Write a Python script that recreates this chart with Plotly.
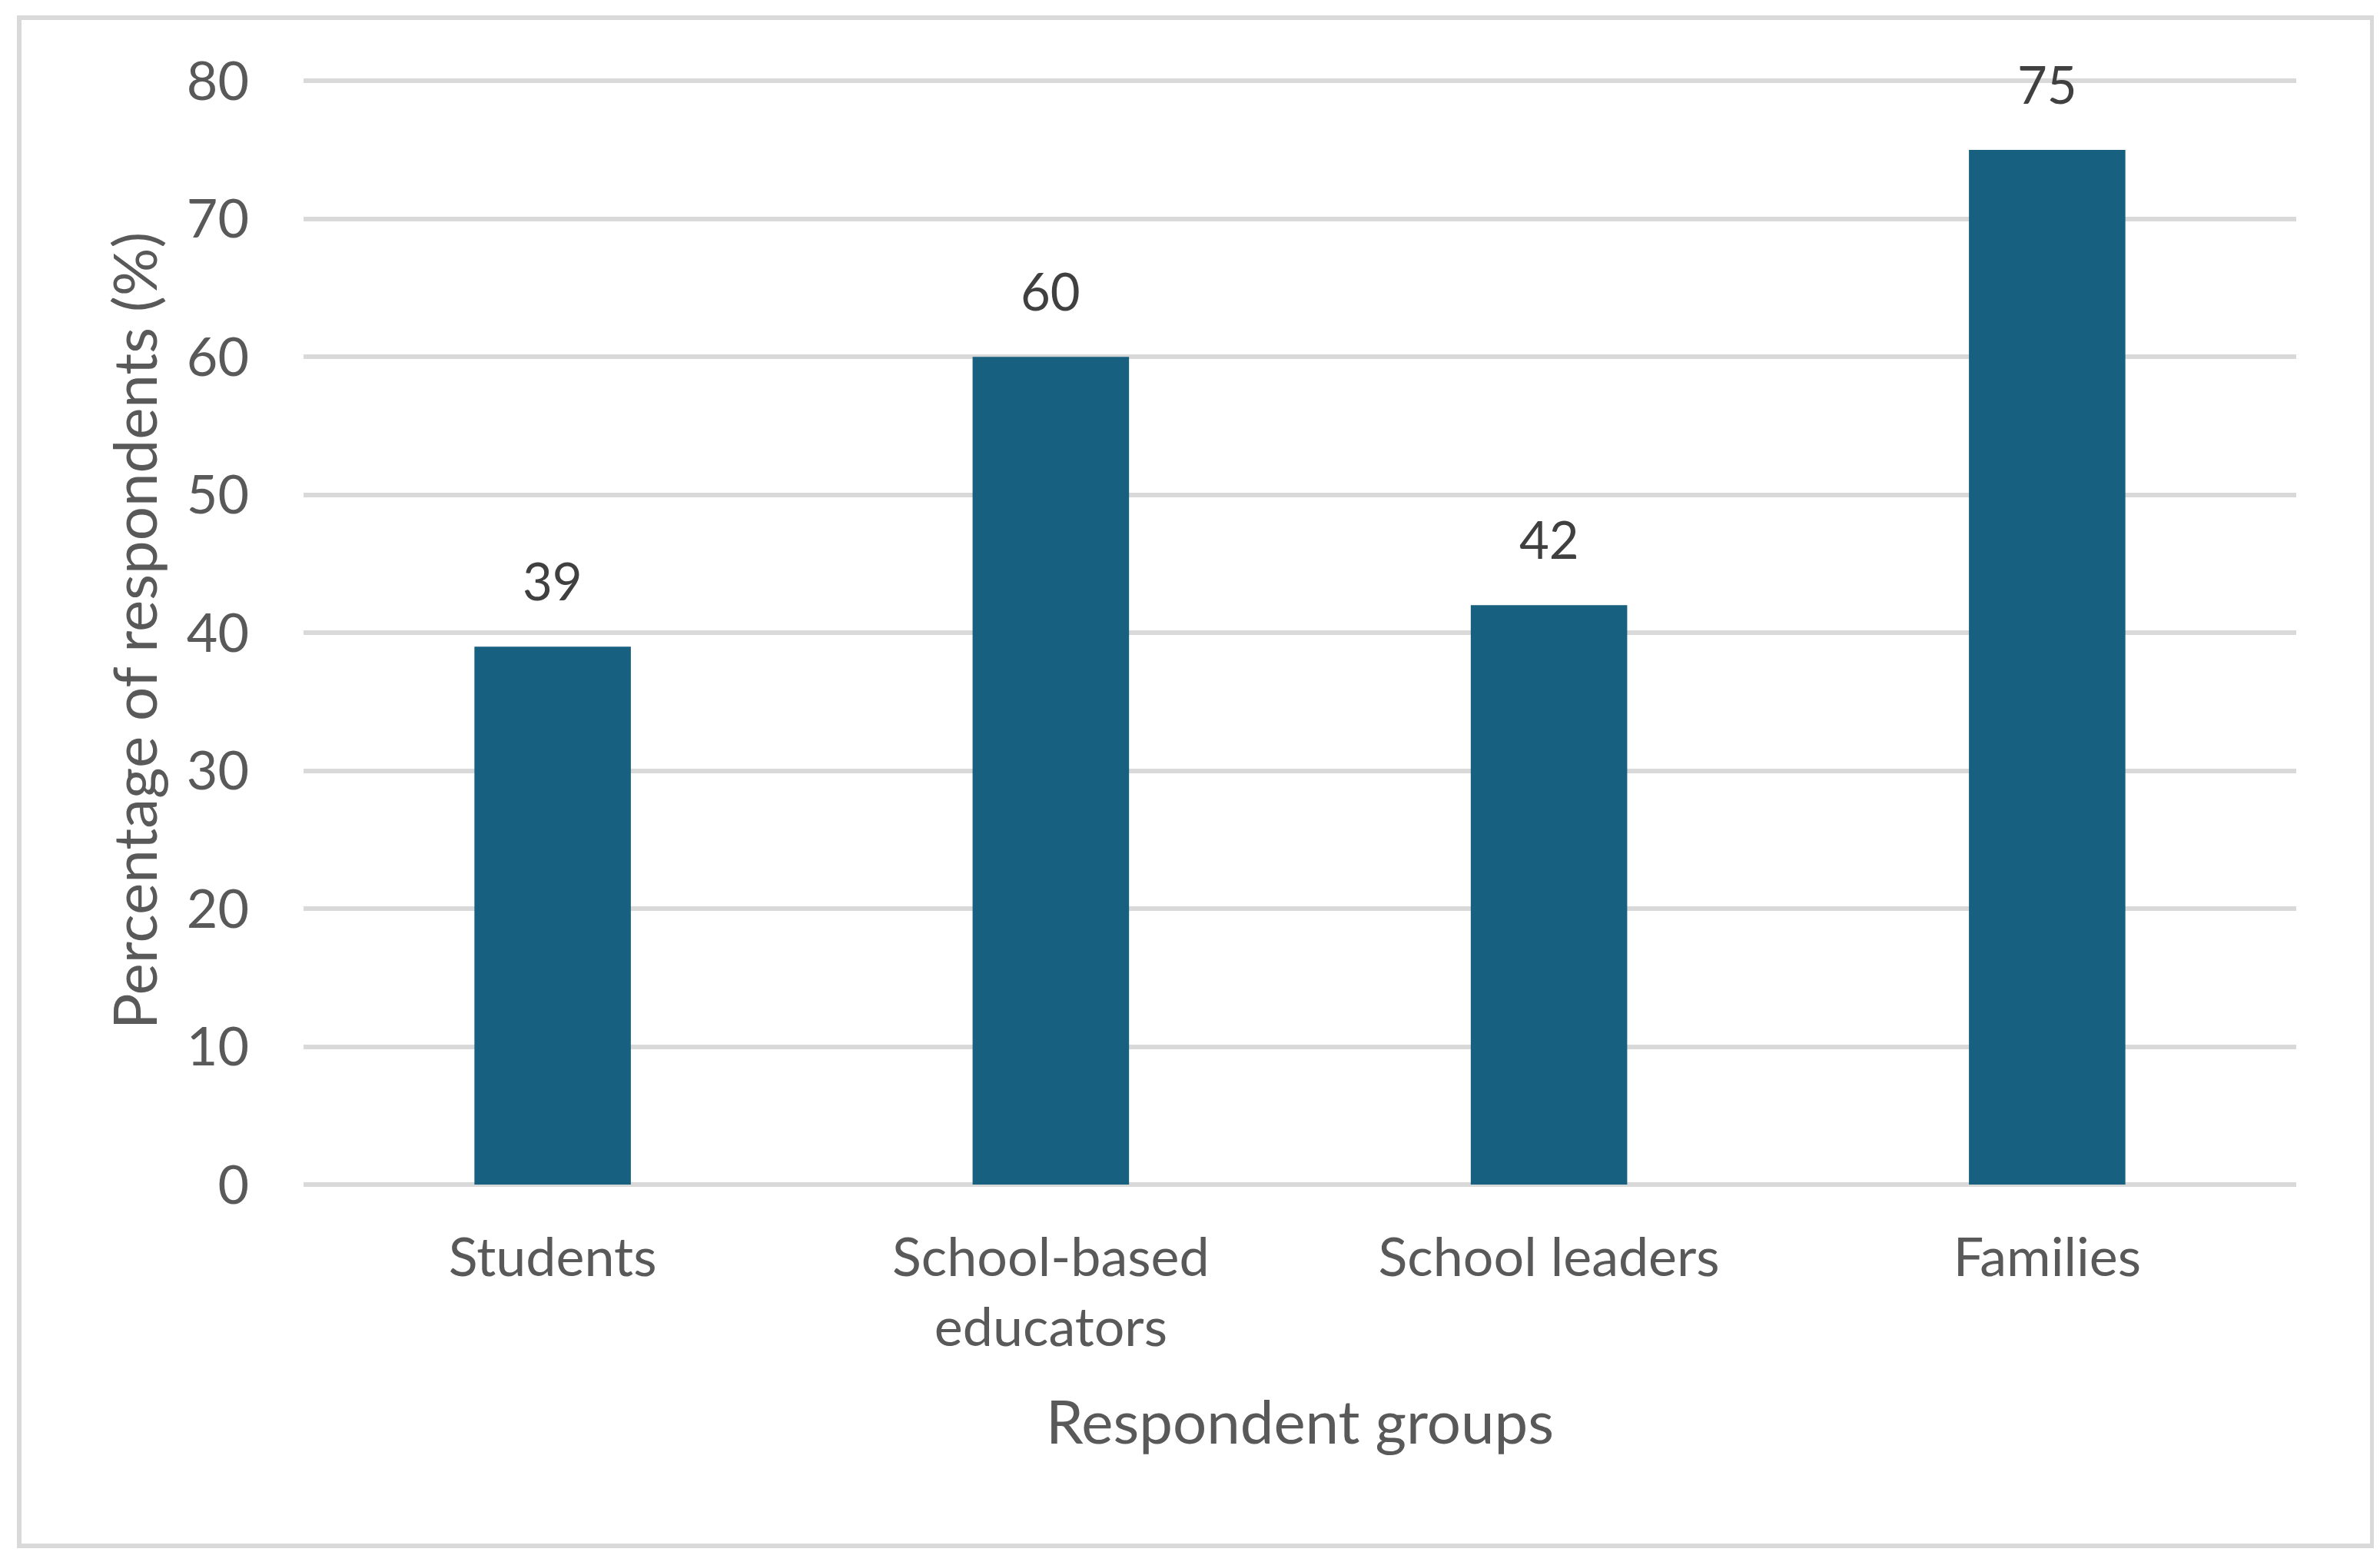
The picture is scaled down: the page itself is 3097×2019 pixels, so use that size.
import plotly.graph_objects as go

categories = ["Students", "School-based<br>educators", "School leaders", "Families"]
values = [39, 60, 42, 75]
y_ticks = [0, 10, 20, 30, 40, 50, 60, 70, 80]

W, H = 3097, 2019
L, R, T, B = 387, 117, 92, 486
pw, ph = W - L - R, H - T - B

fig = go.Figure()
fig.add_trace(go.Bar(
    x=categories, y=values,
    marker=dict(color="#17607F", line=dict(width=0)),
    hoverinfo="skip",
))

for c, v in zip(categories, values):
    fig.add_annotation(x=c, y=v, text=str(v), showarrow=False,
                       yanchor="bottom", yshift=44,
                       font=dict(family="Lato", size=67, color="#404040"))

# outer chart border
bx0 = (17 - L) / pw
bx1 = (3079 - L) / pw
by1 = (H - B - 15) / ph
by0 = (H - B - 2003) / ph
fig.add_shape(type="rect", xref="paper", yref="paper",
              x0=bx0, x1=bx1, y0=by0, y1=by1,
              line=dict(color="#D9D9D9", width=6), layer="below")

fig.update_layout(
    width=W, height=H,
    margin=dict(l=L, r=R, t=T, b=B, autoexpand=False),
    paper_bgcolor="white", plot_bgcolor="white",
    bargap=0.686,
    showlegend=False,
    font=dict(family="Lato", color="#595959"),
)
fig.update_xaxes(
    showgrid=False, showline=False, zeroline=False,
    ticks="outside", ticklen=34, tickcolor="rgba(0,0,0,0)",
    tickfont=dict(family="Lato", size=70, color="#595959"),
    title=dict(text="Respondent groups", standoff=58,
               font=dict(family="Lato", size=78, color="#595959")),
    automargin=False,
)
fig.update_yaxes(
    range=[0, 80.3], tickvals=y_ticks,
    showgrid=True, gridcolor="#D9D9D9", gridwidth=6,
    zeroline=True, zerolinecolor="#D9D9D9", zerolinewidth=6,
    showline=False,
    ticks="outside", ticklen=56, tickcolor="rgba(0,0,0,0)",
    tickfont=dict(family="Lato", size=70, color="#595959"),
    title=dict(text="Percentage of respondents (%)", standoff=12,
               font=dict(family="Lato", size=78, color="#595959")),
    automargin=False,
)

fig.write_html("out.html")
